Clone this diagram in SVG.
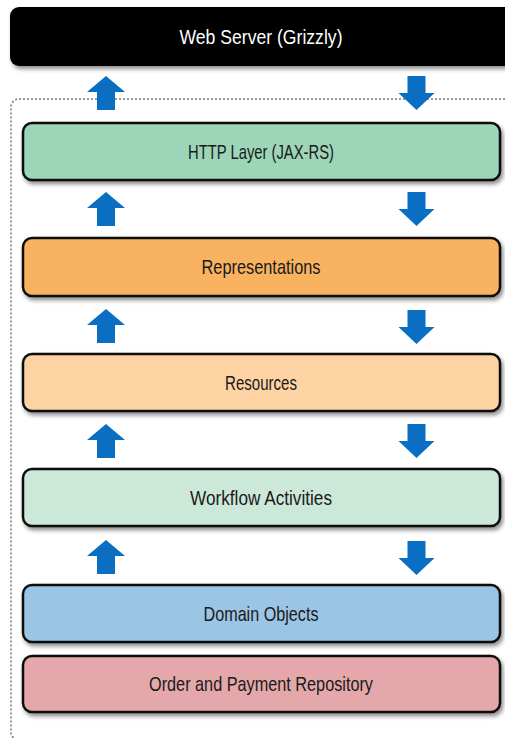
<svg xmlns="http://www.w3.org/2000/svg" width="505" height="738" viewBox="0 0 505 738">
<style>
.box{stroke:#111;stroke-width:2.5;filter:url(#sh)}
.lbl{font-family:"Liberation Sans",Arial,sans-serif;font-size:21px;fill:#1a1a1a;text-anchor:middle}
.arr{fill:#0a6fc2}
</style>
<defs>
<filter id="sh" x="-5%" y="-20%" width="112%" height="150%">
<feDropShadow dx="2" dy="3" stdDeviation="2" flood-color="#000" flood-opacity="0.45"/>
</filter>
<path id="up" d="M0,0 L19,16 L9,16 L9,34 L-9,34 L-9,16 L-19,16 Z"/>
<path id="dn" d="M-9,0 L9,0 L9,17 L18,17 L0,34 L-18,17 L-9,17 Z"/>
</defs>
<rect width="505" height="738" fill="#fff"/>
<rect x="11" y="99" width="600" height="641" rx="8" fill="none" stroke="#777" stroke-width="1.5" stroke-dasharray="2 2"/>
<g id="web-server">
<rect x="10" y="7" width="530" height="59" rx="9" fill="#000" filter="url(#sh)"/>
<text class="lbl" x="261" y="43.5" style="fill:#fff" textLength="163" lengthAdjust="spacingAndGlyphs">Web Server (Grizzly)</text>
</g>
<g id="http-layer">
<rect class="box" x="23" y="123" width="477" height="57" rx="9" fill="#9dd5b9"/>
<text class="lbl" x="261" y="158.5" textLength="146" lengthAdjust="spacingAndGlyphs">HTTP Layer (JAX-RS)</text>
</g>
<g id="representations">
<rect class="box" x="23" y="238" width="477" height="58" rx="9" fill="#f8b261"/>
<text class="lbl" x="261" y="274" textLength="119" lengthAdjust="spacingAndGlyphs">Representations</text>
</g>
<g id="resources">
<rect class="box" x="23" y="354" width="477" height="57" rx="9" fill="#fdd3a3"/>
<text class="lbl" x="261" y="389.5" textLength="72" lengthAdjust="spacingAndGlyphs">Resources</text>
</g>
<g id="workflow-activities">
<rect class="box" x="23" y="469" width="477" height="57" rx="9" fill="#cce8d9"/>
<text class="lbl" x="261" y="504.5" textLength="142" lengthAdjust="spacingAndGlyphs">Workflow Activities</text>
</g>
<g id="domain-objects">
<rect class="box" x="23" y="585" width="477" height="57" rx="9" fill="#9bc5e5"/>
<text class="lbl" x="261" y="620.5" textLength="115" lengthAdjust="spacingAndGlyphs">Domain Objects</text>
</g>
<g id="order-payment-repository">
<rect class="box" x="23" y="656" width="477" height="56" rx="9" fill="#e4a8aa"/>
<text class="lbl" x="261" y="691" textLength="224" lengthAdjust="spacingAndGlyphs">Order and Payment Repository</text>
</g>
<g id="connectors" class="arr">
<use href="#up" x="106" y="76"/>
<use href="#dn" x="416.5" y="76"/>
<use href="#up" x="106" y="192"/>
<use href="#dn" x="416.5" y="192"/>
<use href="#up" x="106" y="309"/>
<use href="#dn" x="416.5" y="310"/>
<use href="#up" x="106" y="424"/>
<use href="#dn" x="416.5" y="424"/>
<use href="#up" x="106" y="540"/>
<use href="#dn" x="416.5" y="541"/>
</g>
</svg>
